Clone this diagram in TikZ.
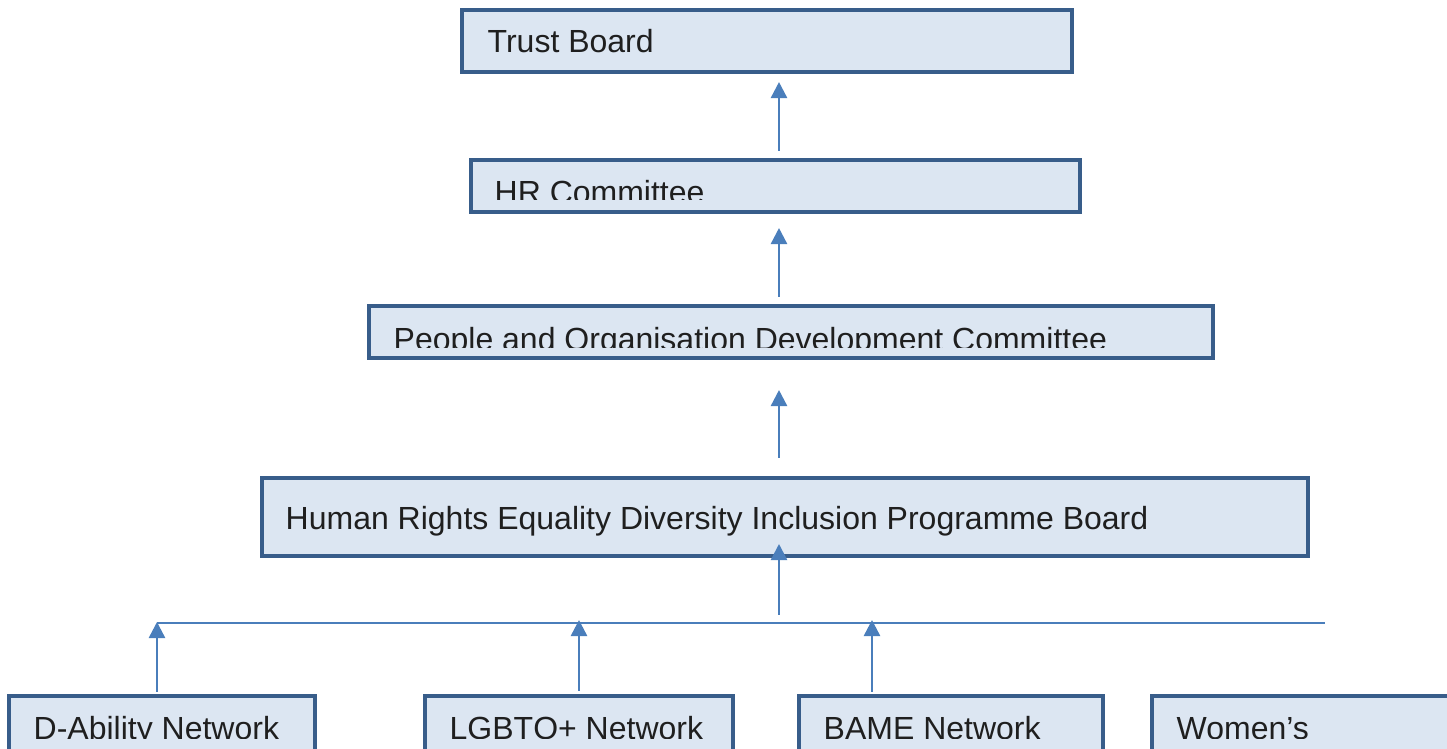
\documentclass[tikz,border=0pt]{standalone}
\usepackage{fontspec}
\setmainfont{Liberation Sans}
\usetikzlibrary{arrows.meta,fit}
\definecolor{boxfill}{HTML}{DCE6F2}
\definecolor{boxline}{HTML}{385D8A}
\definecolor{flowline}{HTML}{4A7EBB}

\begin{document}
\begin{tikzpicture}[x=0.01cm,y=-0.01cm]
        \tikzset{
           orgbox/.style={draw=boxline, fill=boxfill, line width=1.15pt, inner sep=0pt},
           boxtext/.style={anchor=base west, inner sep=0pt, text=black!88,
              font=\fontsize{9.1}{11}\selectfont},
           flow/.style={draw=flowline, line width=0.7pt,
              -{Triangle[length=0.16cm,width=0.16cm]}},
           bus/.style={draw=flowline, line width=0.65pt}
        }
        \clip (0,0) rectangle (1447,749);

        % Committee chain
        \node[orgbox, fit={(462,10) (1072,72)}] (trust) {};
        \node[orgbox, fit={(471,160) (1080,212)}] (hr) {};
        \node[orgbox, fit={(369,306) (1213,358)}] (people) {};
        \node[orgbox, fit={(262,478) (1308,556)}] (hred) {};

        \node[boxtext] (trusttext) at (487,53) {Trust Board};
        \begin{scope}
            \clip (hr.north west) rectangle (hr.east |- 0,200);
            \node[boxtext] (hrtext) at (494,204) {HR Committee};
        \end{scope}
        \begin{scope}
            \clip (people.north west) rectangle (people.east |- 0,348);
            \node[boxtext] (peopletext) at (393,351) {People and Organisation Development Committee};
        \end{scope}
        \node[boxtext] (hredtext) at (285,530) {Human Rights Equality Diversity Inclusion Programme Board};

        % Networks
        \node[orgbox, fit={(9,696) (315,760)}] (dability) {};
        \node[orgbox, fit={(425,696) (733,760)}] (lgbtq) {};
        \node[orgbox, fit={(799,696) (1103,760)}] (bame) {};
        \node[orgbox, fit={(1152,696) (1460,760)}] (women) {};

        \begin{scope}
            \clip (0,696) rectangle (1447,739);
            \node[boxtext] (dabilitytext) at (33,740) {D-Ability Network};
            \node[boxtext] (lgbtqtext) at (449,740) {LGBTQ+ Network};
            \node[boxtext] (bametext) at (823,740) {BAME Network};
            \node[boxtext] (womentext) at (1176,740) {Women’s};
        \end{scope}

        % Lines
        \coordinate (spine) at (779,0);
        \coordinate (busL) at (157,623);
        \coordinate (busR) at (1325,623);
        \coordinate (bametap) at (872,623);

        \draw[flow, shorten <=0.07cm, shorten >=0.08cm] (hr.north -| spine) -- (trust.south -| spine);
        \draw[flow, shorten <=0.07cm, shorten >=0.14cm] (people.north -| spine) -- (hr.south -| spine);
        \draw[flow, shorten <=0.18cm, shorten >=0.30cm] (hred.north -| spine) -- (people.south -| spine);
        \draw[flow, shorten <=0.08cm, shorten >=-0.14cm] (busL -| spine) -- (hred.south -| spine);

        \draw[bus] (busL) -- (busR);
        \draw[flow, shorten <=0.02cm, shorten >=-0.01cm] (dability.north -| busL) -- (busL);
        \draw[flow, shorten <=0.03cm, shorten >=-0.03cm] (lgbtq.north) -- (lgbtq.north |- busL);
        \draw[flow, shorten <=0.02cm, shorten >=-0.03cm] (bame.north -| bametap) -- (bametap);
\end{tikzpicture}
\end{document}
